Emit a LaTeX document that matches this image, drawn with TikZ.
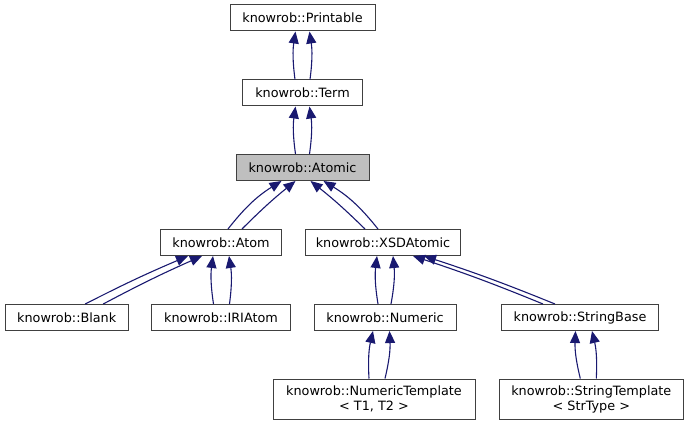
\documentclass[tikz,border=0pt]{standalone}
\usepackage{fontspec}
\setmainfont{DejaVu Sans}
\usepackage{tikz}
\usetikzlibrary{arrows.meta,calc}

\definecolor{edgeblue}{HTML}{191970}
\definecolor{boxgray}{HTML}{404040}
\definecolor{curgray}{HTML}{BFBFBF}

\tikzset{
  cls/.style={draw=boxgray, line width=1pt, fill=white, inner sep=0pt,
    minimum height=26pt, align=center, font=\fontsize{12.8}{15}\selectfont},
  inh/.style={draw=edgeblue, line width=1.1pt,
    -{Triangle[length=12pt,width=10pt]}}
}

\begin{document}
\begin{tikzpicture}[x=1pt,y=-1pt]
\useasboundingbox (0,0) rectangle (689,425);
% classes
\node[cls, minimum width=145pt] (printable) at (302.5,18) {knowrob::Printable};
\node[cls, minimum width=120pt] (term) at (302.5,93) {knowrob::Term};
\node[cls, minimum width=133pt, fill=curgray] (atomic) at (302.5,167.5) {knowrob::Atomic};
\node[cls, minimum width=121pt] (atom) at (221,242.5) {knowrob::Atom};
\node[cls, minimum width=155pt] (xsdatomic) at (383,242.5) {knowrob::XSDAtomic};
\node[cls, minimum width=123pt] (blank) at (66.7,317.5) {knowrob::Blank};
\node[cls, minimum width=139pt] (iriatom) at (221,317.5) {knowrob::IRIAtom};
\node[cls, minimum width=142pt] (numeric) at (385,317.5) {knowrob::Numeric};
\node[cls, minimum width=157pt] (stringbase) at (580,317.5) {knowrob::StringBase};
\node[cls, minimum width=202pt, minimum height=40pt] (numtemplate) at (374,399)
  {knowrob::NumericTemplate\\{\textless} T1, T2 {\textgreater}};
\node[cls, minimum width=184pt, minimum height=40pt] (strtemplate) at (591.3,399)
  {knowrob::StringTemplate\\{\textless} StrType {\textgreater}};

% inheritance, every edge twice (bend > 0 to the left)
\foreach \c/\p/\dc/\dp/\b in {
    term/printable/-7.5/-7/8, term/printable/7.5/7/-8,
    atomic/term/-7/-7/8, atomic/term/7/7/-8,
    atom/atomic/7/-21/10, atom/atomic/21/-7/3,
    xsdatomic/atomic/-18/8/-3, xsdatomic/atomic/-5/21/-10,
    blank/atom/18.5/-33/2, blank/atom/36.5/-19/2,
    iriatom/atom/-7.5/-8/8, iriatom/atom/8.5/8/-8,
    numeric/xsdatomic/-7/-6/8, numeric/xsdatomic/6/10/-8,
    stringbase/xsdatomic/-37/30/-2, stringbase/xsdatomic/-25/41/-2,
    numtemplate/numeric/-5/-12/8, numtemplate/numeric/11/4.5/-8,
    strtemplate/stringbase/-11/-4.5/8, strtemplate/stringbase/5/12/-8}
  \draw[inh] ($(\c.north)+(\dc,0)$) to[bend left=\b] ($(\p.south)+(\dp,0)$);
\end{tikzpicture}
\end{document}
